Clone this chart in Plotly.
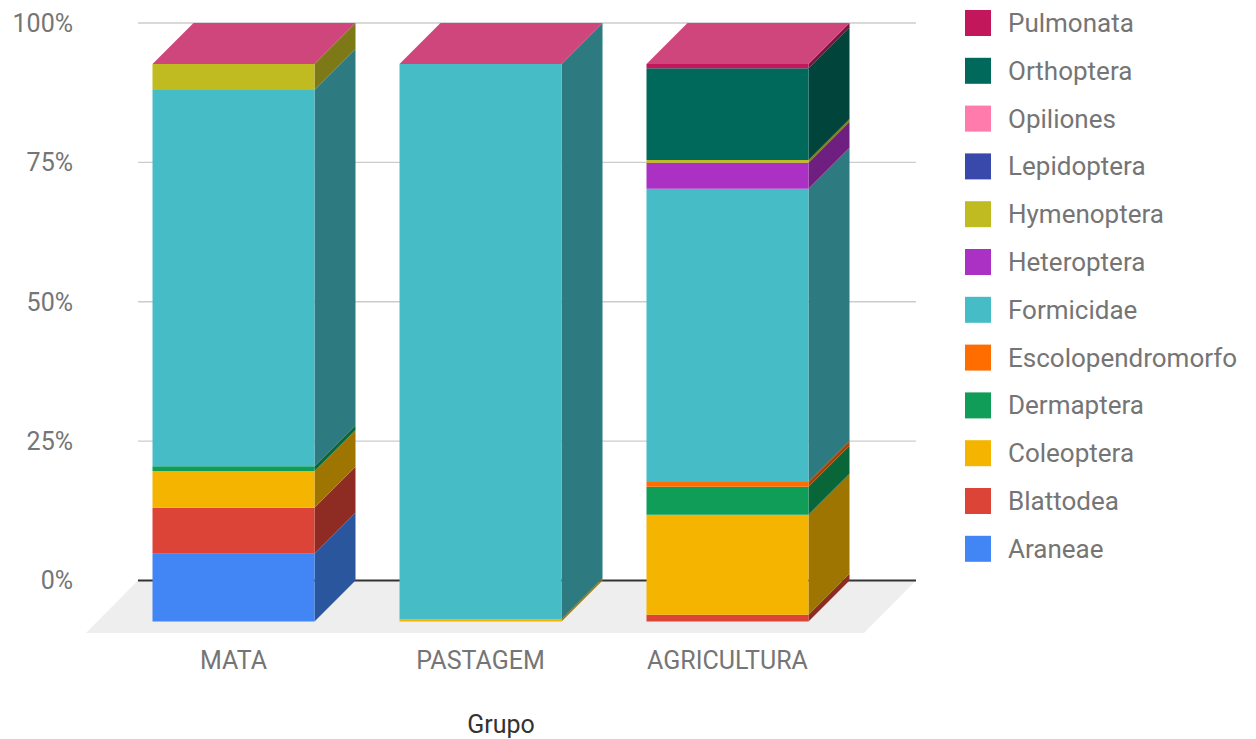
import plotly.graph_objects as go

# ---------------- data ----------------
categories = ["MATA", "PASTAGEM", "AGRICULTURA"]
series_names = ["Araneae", "Blattodea", "Coleoptera", "Dermaptera", "Escolopendromorfo",
                "Formicidae", "Heteroptera", "Hymenoptera", "Lepidoptera", "Opiliones",
                "Orthoptera", "Pulmonata"]
araneae = [12.1, 0.0, 0.0]
blattodea = [8.25, 0.0, 1.2]
coleoptera = [6.57, 0.4, 17.9]
dermaptera = [0.84, 0.0, 5.0]
escolopendromorfo = [0.0, 0.0, 0.84]
formicidae = [67.3, 99.6, 52.4]
heteroptera = [0.0, 0.0, 4.66]
hymenoptera = [4.66, 0.0, 0.48]
lepidoptera = [0.0, 0.0, 0.0]
opiliones = [0.0, 0.0, 0.0]
orthoptera = [0.0, 0.0, 16.4]
pulmonata = [0.0, 0.0, 0.78]
series_values = [araneae, blattodea, coleoptera, dermaptera, escolopendromorfo, formicidae,
                 heteroptera, hymenoptera, lepidoptera, opiliones, orthoptera, pulmonata]
series_colors = ["#4285F4", "#DB4437", "#F4B400", "#0F9D58", "#FF6D00", "#46BDC6",
                 "#AB30C4", "#C1BB22", "#3949AB", "#FF7BAC", "#00695C", "#C2185B"]
y_ticks = [0, 25, 50, 75, 100]
y_tick_labels = ["0%", "25%", "50%", "75%", "100%"]
x_title = "Grupo"

# ---------------- geometry (style constants) ----------------
W, H = 1256, 739
ML, MR, MT, MB = 86, 340, 20, 105
PW, PH = W - ML - MR, H - MT - MB
PX_PER_PCT = 5.575          # vertical pixels per percent
PX_PER_CAT = 247.0          # horizontal pixels per category
ZERO_PX = 580.5             # pixel row of the 0% line
CAT0_PX = 233.5             # pixel column of the first category (front face centre)
y_lo = -(MT + PH - ZERO_PX) / PX_PER_PCT
y_hi = (ZERO_PX - MT) / PX_PER_PCT
x_lo = (ML - CAT0_PX) / PX_PER_CAT
x_hi = (ML + PW - CAT0_PX) / PX_PER_CAT

half_w = 81 / PX_PER_CAT    # half width of a bar front face
dx = 41 / PX_PER_CAT        # depth offset (x)
dy = 41 / PX_PER_PCT        # depth offset (y)
fdx = 52 / PX_PER_CAT       # floor depth
fdy = 52.5 / PX_PER_PCT
back_l = (138 - CAT0_PX) / PX_PER_CAT
back_r = (916 - CAT0_PX) / PX_PER_CAT


def shade(hexc, f):
    h = hexc.lstrip("#")
    r, g, b = (int(h[i:i + 2], 16) for i in (0, 2, 4))
    return "#%02x%02x%02x" % (int(r * f), int(g * f), int(b * f))


def tint(hexc, f):
    h = hexc.lstrip("#")
    r, g, b = (int(h[i:i + 2], 16) for i in (0, 2, 4))
    return "#%02x%02x%02x" % (int(r + (255 - r) * f), int(g + (255 - g) * f), int(b + (255 - b) * f))


fig = go.Figure()

# floor
fig.add_trace(go.Scatter(
    x=[back_l, back_r, back_r - fdx, back_l - fdx, back_l],
    y=[0, 0, -fdy, -fdy, 0],
    mode="lines", fill="toself", fillcolor="#eeeeee", line=dict(width=0),
    hoverinfo="skip", showlegend=False))

# back-plane gridlines
for t in y_ticks:
    fig.add_trace(go.Scatter(
        x=[back_l, back_r], y=[t, t], mode="lines",
        line=dict(color="#333333" if t == 0 else "#cccccc", width=2 if t == 0 else 1.4),
        hoverinfo="skip", showlegend=False))

# totals for normalisation
totals = [sum(s[i] for s in series_values) for i in range(len(categories))]

cum = [0.0] * len(categories)
for name, vals, col in zip(series_names, series_values, series_colors):
    fx, fy, sx, sy = [], [], [], []
    for i, v in enumerate(vals):
        p = v / totals[i] * 100.0
        if p <= 0:
            continue
        b = cum[i] - dy
        t = cum[i] + p - dy
        cum[i] += p
        x0, x1 = i - half_w, i + half_w
        fx += [x0, x1, x1, x0, x0, None]
        fy += [b, b, t, t, b, None]
        sx += [x1, x1 + dx, x1 + dx, x1, x1, None]
        sy += [b, b + dy, t + dy, t, b, None]
    if fx:
        fig.add_trace(go.Scatter(x=sx, y=sy, mode="lines", fill="toself",
                                 fillcolor=shade(col, 0.65), line=dict(width=0),
                                 hoverinfo="skip", showlegend=False, name=name))
        fig.add_trace(go.Scatter(x=fx, y=fy, mode="lines", fill="toself",
                                 fillcolor=col, line=dict(width=0),
                                 hoverinfo="name", showlegend=False, name=name))

# top faces (colour of the top series)
tx, ty = [], []
for i in range(len(categories)):
    T = cum[i] - dy
    tx += [i - half_w, i + half_w, i + half_w + dx, i - half_w + dx, i - half_w, None]
    ty += [T, T, T + dy, T + dy, T, None]
fig.add_trace(go.Scatter(x=tx, y=ty, mode="lines", fill="toself",
                         fillcolor=tint(series_colors[-1], 0.2), line=dict(width=0),
                         hoverinfo="skip", showlegend=False))

# custom legend (reverse order), built from series names/colours
def px2paper_x(px):
    return (px - ML) / PW


def px2paper_y(py):
    return (MT + PH - py) / PH


row0, row_step = 23.0, 47.8
for k, (name, col) in enumerate(zip(series_names[::-1], series_colors[::-1])):
    cy = row0 + k * row_step
    fig.add_shape(type="rect", xref="paper", yref="paper",
                  x0=px2paper_x(965), x1=px2paper_x(991),
                  y0=px2paper_y(cy + 13), y1=px2paper_y(cy - 13),
                  fillcolor=col, line=dict(width=0))
    fig.add_annotation(xref="paper", yref="paper", x=px2paper_x(1006), y=px2paper_y(cy),
                       xanchor="left", yanchor="middle", text=name, showarrow=False,
                       font=dict(family="Roboto", size=26, color="#757575"))

fig.update_layout(
    width=W, height=H,
    margin=dict(l=ML, r=MR, t=MT, b=MB, autoexpand=False),
    paper_bgcolor="white", plot_bgcolor="white",
    showlegend=False,
    font=dict(family="Roboto", color="#757575"),
    xaxis=dict(range=[x_lo, x_hi], tickvals=list(range(len(categories))), ticktext=categories,
               showgrid=False, zeroline=False, showline=False, ticks="",
               tickfont=dict(size=25, color="#757575"), ticklabelstandoff=9,
               title=dict(text=x_title, font=dict(size=25, color="#333333"), standoff=41),
               fixedrange=True),
    yaxis=dict(range=[y_lo, y_hi], tickvals=y_ticks, ticktext=y_tick_labels,
               showgrid=False, zeroline=False, showline=False, ticks="",
               tickfont=dict(size=25, color="#757575"), ticklabelstandoff=12,
               fixedrange=True),
)

fig.write_html("out.html")
